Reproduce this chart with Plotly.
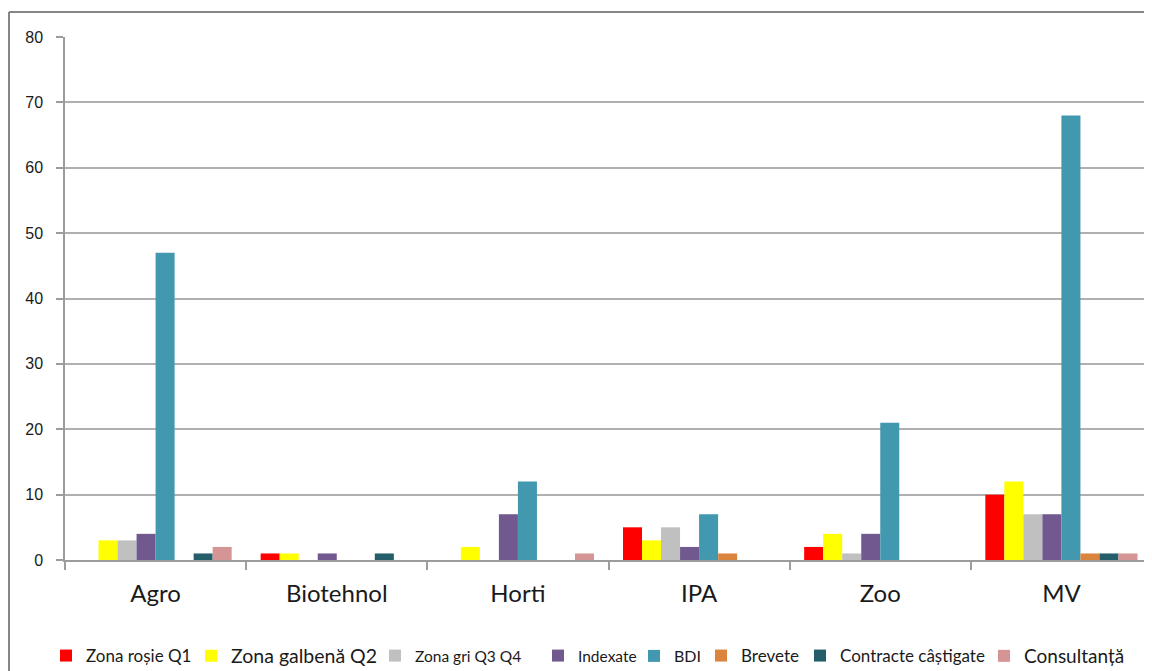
import plotly.graph_objects as go

categories = ["Agro", "Biotehnol", "Horti", "IPA", "Zoo", "MV"]

zona_rosie_q1 = [0, 1, 0, 5, 2, 10]
zona_galbena_q2 = [3, 1, 2, 3, 4, 12]
zona_gri_q3_q4 = [3, 0, 0, 5, 1, 7]
indexate = [4, 1, 7, 2, 4, 7]
bdi = [47, 0, 12, 7, 21, 68]
brevete = [0, 0, 0, 1, 0, 1]
contracte_castigate = [1, 1, 0, 0, 0, 1]
consultanta = [2, 0, 1, 0, 0, 1]

series_names = ["Zona roșie Q1", "Zona galbenă Q2", "Zona gri Q3 Q4", "Indexate",
                "BDI", "Brevete", "Contracte câștigate", "Consultanță"]
series_values = [zona_rosie_q1, zona_galbena_q2, zona_gri_q3_q4, indexate,
                 bdi, brevete, contracte_castigate, consultanta]
series_colors = ["#FF0000", "#FFFF00", "#C0C0C0", "#71588F",
                 "#4198AF", "#DB843D", "#245E6B", "#D69595"]

y_ticks = [0, 10, 20, 30, 40, 50, 60, 70, 80]

# page body has an 8px margin: figure origin sits at screen (8, 8)
OFF = 8
SCREEN_W, SCREEN_H = 1152, 671
W, H = SCREEN_W - OFF, SCREEN_H - OFF
# plot area in screen pixels: x 65..1152, y 37..560
L, R, T, B = 65 - OFF, 0, 37 - OFF, SCREEN_H - 560
PW = W - L - R
PH = H - T - B

def px_x(sx):
    return (sx - OFF - L) / PW

def px_y(sy):
    return (H - B - (sy - OFF)) / PH

legend_text_x = [86, 231, 415, 578, 674, 741, 840, 1024]
legend_font_size = [17, 19.5, 15.5, 15.5, 16, 17, 17, 19]

fig = go.Figure()
for i, (name, vals, col) in enumerate(zip(series_names, series_values, series_colors)):
    fig.add_trace(go.Bar(
        x=categories, y=vals, name=name,
        marker=dict(color=col, line=dict(width=0)),
        legend="legend" if i == 0 else f"legend{i+1}",
    ))

layout_legends = {}
for i in range(len(series_names)):
    key = "legend" if i == 0 else f"legend{i+1}"
    layout_legends[key] = dict(
        x=px_x(legend_text_x[i] - 40), xanchor="left",
        y=px_y(656), yanchor="middle",
        orientation="h",
        bgcolor="rgba(0,0,0,0)", borderwidth=0,
        font=dict(family="Lato, Liberation Sans, sans-serif",
                  size=legend_font_size[i], color="#1a1a1a"),
        tracegroupgap=0,
    )

fig.update_layout(
    width=W, height=H,
    margin=dict(l=L, r=R, t=T, b=B, pad=0, autoexpand=False),
    paper_bgcolor="white", plot_bgcolor="white",
    barmode="group", bargap=0.16, bargroupgap=0,
    showlegend=True,
    **layout_legends,
    xaxis=dict(
        type="category",
        showline=True, linecolor="#9c9c9c", linewidth=2,
        ticks="outside", tickson="boundaries", ticklen=8,
        tickcolor="#9c9c9c", tickwidth=1.5,
        showgrid=False, zeroline=False,
        tickfont=dict(family="Lato, Liberation Sans, sans-serif", size=24, color="#1a1a1a"),
        ticklabelstandoff=11,
    ),
    yaxis=dict(
        range=[0, 80], tickvals=y_ticks,
        showline=True, linecolor="#9c9c9c", linewidth=1.5,
        ticks="outside", ticklen=7, tickcolor="#9c9c9c", tickwidth=1.5,
        showgrid=True, gridcolor="#b0b0b0", gridwidth=1.5,
        zeroline=False,
        tickfont=dict(family="Liberation Sans, Arial, sans-serif", size=16, color="#1a1a1a"),
        ticklabelstandoff=10,
    ),
    shapes=[
        dict(type="line", xref="paper", yref="paper",
             x0=px_x(9), x1=px_x(9), y0=px_y(12), y1=px_y(700),
             line=dict(color="#868686", width=2)),
        dict(type="line", xref="paper", yref="paper",
             x0=px_x(9), x1=px_x(1200), y0=px_y(12), y1=px_y(12),
             line=dict(color="#868686", width=2)),
    ],
)

fig.write_html("out.html")
